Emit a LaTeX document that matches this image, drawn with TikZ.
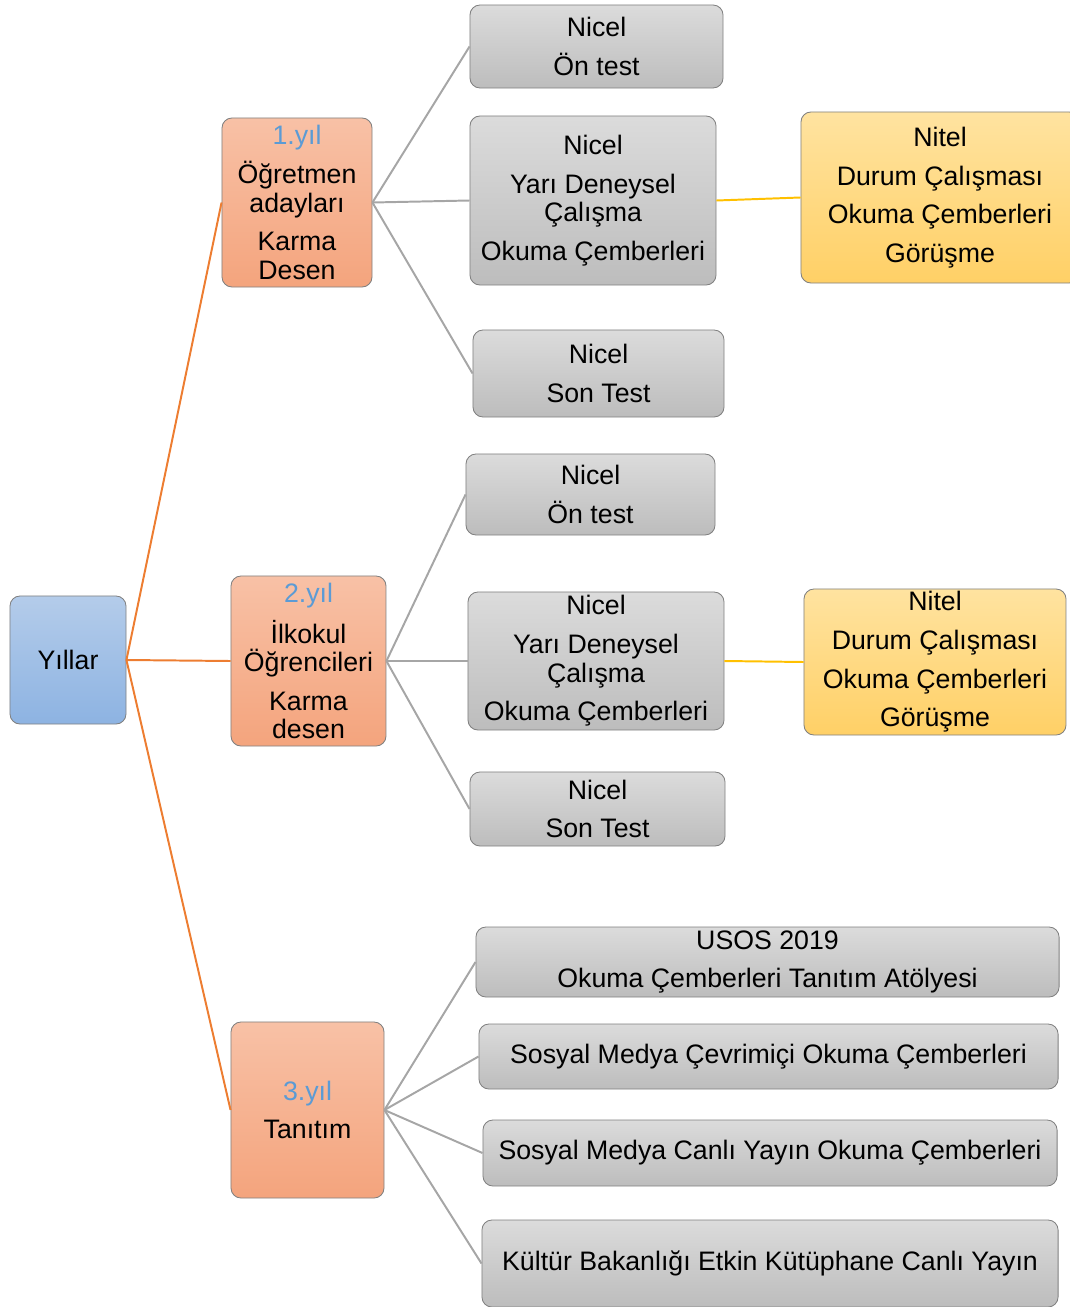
\documentclass[tikz,border=0pt]{standalone}
\usepackage{fontspec}
\setmainfont{Liberation Sans}
\usepackage{tikz}
\definecolor{yilmavi}{HTML}{5B9BD5}
\definecolor{kokust}{HTML}{B4CCEA}
\definecolor{kokalt}{HTML}{8DB3E2}
\definecolor{yilust}{HTML}{F8C1A6}
\definecolor{yilalt}{HTML}{F4A47D}
\definecolor{nitelust}{HTML}{FFE3A0}
\definecolor{nitelalt}{HTML}{FFD066}
\definecolor{turuncu}{HTML}{ED7D31}
\definecolor{sari}{HTML}{FFC000}

\begin{document}
\begin{tikzpicture}[x=0.025cm, y=-0.025cm,
    every node/.style={font=\fontsize{19}{20.2}\selectfont, align=center, inner sep=0pt, rounded corners=0.25cm, draw=black!50, line width=0.6pt},
    kokbox/.style={top color=kokust, bottom color=kokalt},
    yilbox/.style={top color=yilust, bottom color=yilalt},
    nicelbox/.style={top color=black!14, bottom color=black!26},
    nitelbox/.style={top color=nitelust, bottom color=nitelalt},
    kokline/.style={draw=turuncu, line width=1.4pt},
    nicelline/.style={draw=black!35, line width=1.4pt},
    nitelline/.style={draw=sari, line width=1.4pt}]
    \useasboundingbox (0,0) rectangle (1070,1307);
    % Draw root
    \node[kokbox, minimum width=2.9cm, minimum height=3.2cm] (yillar) at (68,660) {Yıllar};
    % Draw years
    \node[yilbox, minimum width=3.75cm, minimum height=4.225cm] (yil1) at (297,202.5)
        {\textcolor{yilmavi}{1.yıl}\\[7.3pt] Öğretmen\\ adayları\\[7.3pt] Karma\\ Desen};
    \node[yilbox, minimum width=3.875cm, minimum height=4.25cm] (yil2) at (308.5,661)
        {\textcolor{yilmavi}{2.yıl}\\[7.3pt] İlkokul\\ Öğrencileri\\[7.3pt] Karma\\ desen};
    \node[yilbox, minimum width=3.825cm, minimum height=4.4cm] (yil3) at (307.5,1110)
        {\textcolor{yilmavi}{3.yıl}\\[7.3pt] Tanıtım};
    % Draw first year
    \node[nicelbox, minimum width=6.325cm, minimum height=2.075cm] (on1) at (596.5,46.5)
        {Nicel\\[7.3pt] Ön test};
    \node[nicelbox, minimum width=6.15cm, minimum height=4.225cm] (yari1) at (593,200.5)
        {Nicel\\[7.3pt] Yarı Deneysel\\ Çalışma\\[7.3pt] Okuma Çemberleri};
    \node[nitelbox, minimum width=6.95cm, minimum height=4.275cm] (nitel1) at (940,197.5)
        {Nitel\\[7.3pt] Durum Çalışması\\[7.3pt] Okuma Çemberleri\\[7.3pt] Görüşme};
    \node[nicelbox, minimum width=6.275cm, minimum height=2.175cm] (son1) at (598.5,373.5)
        {Nicel\\[7.3pt] Son Test};
    % Draw second year
    \node[nicelbox, minimum width=6.225cm, minimum height=2.025cm] (on2) at (590.5,494.5)
        {Nicel\\[7.3pt] Ön test};
    \node[nicelbox, minimum width=6.4cm, minimum height=3.45cm] (yari2) at (596,661)
        {Nicel\\[7.3pt] Yarı Deneysel\\ Çalışma\\[7.3pt] Okuma Çemberleri};
    \node[nitelbox, minimum width=6.55cm, minimum height=3.65cm] (nitel2) at (935,662)
        {Nitel\\[7.3pt] Durum Çalışması\\[7.3pt] Okuma Çemberleri\\[7.3pt] Görüşme};
    \node[nicelbox, minimum width=6.375cm, minimum height=1.85cm] (son2) at (597.5,809)
        {Nicel\\[7.3pt] Son Test};
    % Draw third year
    \node[nicelbox, minimum width=14.575cm, minimum height=1.75cm] (usos) at (767.5,962)
        {USOS 2019\\[7.3pt] Okuma Çemberleri Tanıtım Atölyesi};
    \node[nicelbox, minimum width=14.475cm, minimum height=1.625cm] (cevrim) at (768.5,1056.5)
        {Sosyal Medya Çevrimiçi Okuma Çemberleri};
    \node[nicelbox, minimum width=14.35cm, minimum height=1.65cm] (canli) at (770,1153)
        {Sosyal Medya Canlı Yayın Okuma Çemberleri};
    \node[nicelbox, minimum width=14.4cm, minimum height=2.175cm] (kultur) at (770,1263.5)
        {Kültür Bakanlığı Etkin Kütüphane Canlı Yayın};
    % Draw connectors
    \foreach \n in {yil1,yil2,yil3}
        \draw[kokline] (yillar.east) -- (\n.west);
    \foreach \n in {on1,yari1,son1}
        \draw[nicelline] (yil1.east) -- (\n.west);
    \foreach \n in {on2,yari2,son2}
        \draw[nicelline] (yil2.east) -- (\n.west);
    \foreach \n in {usos,cevrim,canli,kultur}
        \draw[nicelline] (yil3.east) -- (\n.west);
    \draw[nitelline] (yari1.east) -- (nitel1.west);
    \draw[nitelline] (yari2.east) -- (nitel2.west);
\end{tikzpicture}
\end{document}
